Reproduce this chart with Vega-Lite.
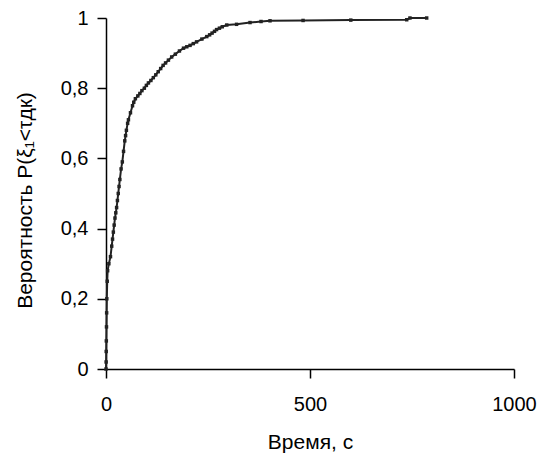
{
  "$schema": "https://vega.github.io/schema/vega-lite/v6.json",
  "width": 408,
  "height": 351,
  "autosize": {"type": "none"},
  "padding": {"left": 106, "top": 18, "right": 26, "bottom": 85},
  "background": "white",
  "config": {
    "view": {"stroke": null},
    "font": "Liberation Sans",
    "axis": {
      "grid": false,
      "labelFlush": false,
      "domainColor": "#000",
      "domainWidth": 1.5,
      "tickColor": "#000",
      "tickWidth": 1.5,
      "tickSize": 9,
      "labelFont": "Liberation Sans",
      "labelFontSize": 20,
      "labelColor": "#000",
      "titleFont": "Liberation Sans",
      "titleFontSize": 21,
      "titleFontWeight": "normal",
      "titleColor": "#000"
    }
  },
  "data": {
    "values": [
      {"t": 0, "p": 0},
      {"t": 0.3, "p": 0.02},
      {"t": 0.5, "p": 0.05},
      {"t": 0.8, "p": 0.08},
      {"t": 1.2, "p": 0.12},
      {"t": 1.6, "p": 0.16},
      {"t": 2, "p": 0.2},
      {"t": 3, "p": 0.25},
      {"t": 4, "p": 0.28},
      {"t": 7, "p": 0.3},
      {"t": 11, "p": 0.32},
      {"t": 14, "p": 0.35},
      {"t": 16, "p": 0.37},
      {"t": 18, "p": 0.39},
      {"t": 20, "p": 0.41},
      {"t": 22, "p": 0.43},
      {"t": 24, "p": 0.445},
      {"t": 26, "p": 0.46},
      {"t": 28, "p": 0.48},
      {"t": 30, "p": 0.5},
      {"t": 32, "p": 0.52},
      {"t": 34, "p": 0.54},
      {"t": 37, "p": 0.57},
      {"t": 40, "p": 0.59},
      {"t": 43, "p": 0.62},
      {"t": 46, "p": 0.65},
      {"t": 48, "p": 0.665},
      {"t": 50, "p": 0.68},
      {"t": 53, "p": 0.7},
      {"t": 55, "p": 0.71},
      {"t": 60, "p": 0.73},
      {"t": 65, "p": 0.75},
      {"t": 68, "p": 0.76},
      {"t": 72, "p": 0.77},
      {"t": 78, "p": 0.778},
      {"t": 83, "p": 0.785},
      {"t": 88, "p": 0.793},
      {"t": 94, "p": 0.8},
      {"t": 99, "p": 0.808},
      {"t": 104, "p": 0.815},
      {"t": 110, "p": 0.822},
      {"t": 116, "p": 0.83},
      {"t": 122, "p": 0.838},
      {"t": 128, "p": 0.847},
      {"t": 134, "p": 0.856},
      {"t": 140, "p": 0.865},
      {"t": 146, "p": 0.872},
      {"t": 153, "p": 0.88},
      {"t": 161, "p": 0.889},
      {"t": 170, "p": 0.897},
      {"t": 180, "p": 0.906},
      {"t": 190, "p": 0.914},
      {"t": 198, "p": 0.918},
      {"t": 206, "p": 0.922},
      {"t": 214, "p": 0.927},
      {"t": 222, "p": 0.932},
      {"t": 235, "p": 0.94},
      {"t": 247, "p": 0.947},
      {"t": 254, "p": 0.952},
      {"t": 260, "p": 0.957},
      {"t": 266, "p": 0.962},
      {"t": 271, "p": 0.967},
      {"t": 278, "p": 0.971},
      {"t": 285, "p": 0.975},
      {"t": 296, "p": 0.98},
      {"t": 320, "p": 0.982},
      {"t": 353, "p": 0.987},
      {"t": 380, "p": 0.99},
      {"t": 402, "p": 0.992},
      {"t": 483, "p": 0.993},
      {"t": 600, "p": 0.994},
      {"t": 737, "p": 0.995},
      {"t": 745, "p": 1},
      {"t": 786, "p": 1}
    ]
  },
  "mark": {
    "type": "line",
    "color": "#222",
    "strokeWidth": 2,
    "point": {"shape": "square", "size": 12, "filled": true, "color": "#222"}
  },
  "encoding": {
    "x": {
      "field": "t",
      "type": "quantitative",
      "scale": {"domain": [0, 1000], "nice": false},
      "axis": {
        "values": [0, 500, 1000],
        "format": "d",
        "title": "Время, с",
        "labelPadding": 16,
        "titleY": 73,
        "titleBaseline": "middle"
      }
    },
    "y": {
      "field": "p",
      "type": "quantitative",
      "scale": {"domain": [0, 1], "nice": false},
      "axis": {
        "values": [0, 0.2, 0.4, 0.6, 0.8, 1],
        "labelExpr": "replace(format(datum.value, '~g'), '.', ',')",
        "title": "Вероятность P(ξ₁<τдк)",
        "labelPadding": 9,
        "titleX": -81,
        "titleY": 182,
        "titleBaseline": "middle"
      }
    }
  }
}
